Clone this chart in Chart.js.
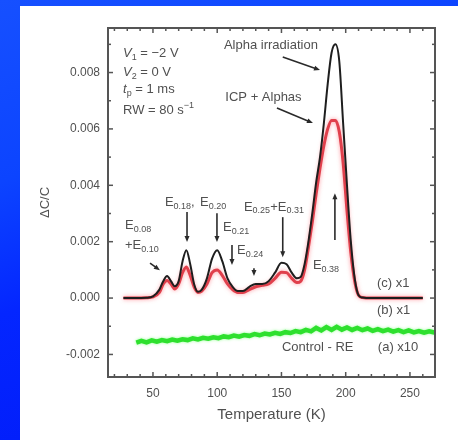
<!DOCTYPE html>
<html>
<head>
<meta charset="utf-8">
<script src="https://cdn.jsdelivr.net/npm/chart.js@4.4.0/dist/chart.umd.min.js"></script>
<style>
  html, body { margin: 0; padding: 0; width: 458px; height: 440px; overflow: hidden; }
  body { position: relative; background: linear-gradient(160deg, #1650ff 0%, #0c44ff 30%, #0426ff 52%, #0016f6 100%); }
  #panel { position: absolute; left: 20px; top: 6px; width: 438px; height: 434px; background: #fff; }
  #chart { position: absolute; left: 0; top: 0; }
</style>
</head>
<body>
<div id="panel"></div>
<canvas id="chart" width="458" height="440"></canvas>
<script>
// Temperatures (K) and dC/C for each curve
const alphaTemps = [27, 35, 45, 50, 55, 58, 61, 64, 67, 70, 73, 76, 79, 82, 85, 88, 92, 96, 100, 104, 108, 112, 116, 120, 125, 130, 135, 140, 145, 150, 154, 158, 162, 165, 168, 171, 174, 177, 180, 183, 186, 189, 192, 195, 198, 201, 204, 207, 210, 213, 220, 240, 260];
const alphaValues = [0, 0, 0.00001, 0.00006, 0.0003, 0.0006, 0.00078, 0.0006, 0.00042, 0.0006, 0.0013, 0.0017, 0.0012, 0.0005, 0.00022, 0.0003, 0.0007, 0.0014, 0.0017, 0.0013, 0.0007, 0.0004, 0.00025, 0.00025, 0.0004, 0.0005, 0.0005, 0.0006, 0.0009, 0.00125, 0.0012, 0.0009, 0.0007, 0.00075, 0.0012, 0.002, 0.003, 0.0041, 0.005, 0.0062, 0.0076, 0.0087, 0.009, 0.0084, 0.0062, 0.004, 0.002, 0.0007, 0.0001, 0.00002, 0, 0, 0];

const icpTemps = [27, 35, 45, 50, 55, 58, 61, 64, 67, 70, 73, 76, 79, 82, 85, 88, 92, 96, 100, 104, 108, 112, 116, 120, 125, 130, 135, 140, 145, 150, 154, 158, 162, 165, 168, 171, 174, 177, 180, 183, 186, 189, 192, 195, 198, 201, 204, 207, 210, 213, 220, 240, 260];
const icpValues = [0, 0, 0.00001, 0.00004, 0.0002, 0.0005, 0.00062, 0.0005, 0.00032, 0.0005, 0.0009, 0.0011, 0.0008, 0.0004, 0.0002, 0.00025, 0.0005, 0.0009, 0.001, 0.0008, 0.0005, 0.0003, 0.0002, 0.0002, 0.0003, 0.0004, 0.00045, 0.0005, 0.0007, 0.00092, 0.0009, 0.0007, 0.00055, 0.0006, 0.001, 0.0018, 0.0027, 0.0037, 0.0046, 0.0054, 0.006, 0.0063, 0.0063, 0.0059, 0.0048, 0.0031, 0.0016, 0.0006, 0.0001, 0.00002, 0, 0, 0];

const controlTemps = [37, 41, 45, 49, 53, 57, 61, 65, 69, 73, 77, 81, 85, 89, 93, 97, 101, 105, 109, 113, 117, 121, 125, 129, 133, 137, 141, 145, 149, 153, 157, 161, 165, 169, 173, 177, 181, 185, 189, 193, 197, 201, 205, 209, 213, 217, 221, 225, 229, 233, 237, 241, 245, 249, 253, 257, 261, 265, 269];
const controlValues = [-0.00158, -0.00152, -0.00157, -0.0015, -0.00155, -0.00149, -0.00153, -0.00147, -0.00151, -0.00146, -0.00149, -0.00143, -0.00147, -0.00141, -0.00144, -0.00139, -0.00142, -0.00136, -0.00139, -0.00133, -0.00137, -0.00131, -0.00134, -0.00128, -0.00132, -0.00126, -0.00129, -0.00123, -0.00127, -0.00121, -0.00124, -0.00117, -0.00121, -0.00113, -0.00118, -0.00106, -0.00115, -0.00103, -0.00113, -0.00102, -0.00112, -0.00104, -0.00113, -0.00106, -0.00114, -0.00108, -0.00116, -0.0011, -0.00117, -0.00112, -0.00119, -0.00114, -0.00121, -0.00115, -0.00122, -0.00117, -0.00123, -0.00118, -0.00122];

// Axis ticks
const xTicks = [50, 100, 150, 200, 250];
const xMinorTicks = [20, 30, 40, 60, 70, 80, 90, 110, 120, 130, 140, 160, 170, 180, 190, 210, 220, 230, 240, 260];
const yTicks = [-0.002, 0, 0.002, 0.004, 0.006, 0.008];
const yMinorTicks = [-0.001, 0.001, 0.003, 0.005, 0.007, 0.009];

// Text notes: [T, dC/C, segments], segment = [text, mode] (0 normal, 1 sub, 2 sup, 3 italic)
const notes = [
  [26.7, 0.00869, [["V", 3], ["1", 1], [" = \u22122 V", 0]]],
  [26.7, 0.00801, [["V", 3], ["2", 1], [" = 0 V", 0]]],
  [26.7, 0.00741, [["t", 3], ["p", 1], [" = 1 ms", 0]]],
  [26.7, 0.00667, [["RW = 80 s", 0], ["\u22121", 2]]],
  [28.2, 0.00259, [["E", 0], ["0.08", 1]]],
  [28.2, 0.00188, [["+E", 0], ["0.10", 1]]],
  [59.3, 0.0034, [["E", 0], ["0.18", 1], [",", 0]]],
  [86.6, 0.0034, [["E", 0], ["0.20", 1]]],
  [104.5, 0.00252, [["E", 0], ["0.21", 1]]],
  [115.4, 0.0017, [["E", 0], ["0.24", 1]]],
  [120.8, 0.00323, [["E", 0], ["0.25", 1], ["+E", 0], ["0.31", 1]]],
  [174.5, 0.00117, [["E", 0], ["0.38", 1]]],
  [224.3, 0.00053, [["(c) x1", 0]]],
  [224.3, -0.00043, [["(b) x1", 0]]],
  [150.4, -0.00174, [["Control - RE", 0]]],
  [225, -0.00174, [["(a) x10", 0]]]
];
const centeredNotes = [
  [141.8, 0.00897, "Alpha irradiation"],
  [136, 0.00713, "ICP + Alphas"]
];
// Arrows: [T1, v1, T2, v2] from tail to head
const arrows = [
  [151, 0.00855, 180, 0.00809],
  [146.5, 0.00674, 174.5, 0.00621],
  [47.7, 0.00124, 55.4, 0.00099],
  [76.5, 0.00305, 76.5, 0.00199],
  [99.8, 0.00301, 99.8, 0.00199],
  [111.5, 0.00188, 111.5, 0.00117],
  [128.6, 0.00106, 128.6, 0.00078],
  [151, 0.00287, 151, 0.00145],
  [191.6, 0.00206, 191.6, 0.00372]
];

const FONT = "'Liberation Sans', Arial, sans-serif";
const TEXT = '#505050';

function toPoints(xs, ys) {
  return xs.map((t, i) => ({ x: t, y: ys[i] }));
}

function drawSegs(ctx, x, y, segs) {
  ctx.textBaseline = 'middle';
  ctx.textAlign = 'left';
  segs.forEach(([t, m]) => {
    let dy = 0;
    if (m === 1 || m === 2) {
      ctx.font = '9px ' + FONT;
      dy = m === 1 ? 4 : -5;
    } else if (m === 3) {
      ctx.font = 'italic 13px ' + FONT;
    } else {
      ctx.font = '13px ' + FONT;
    }
    ctx.fillText(t, x, y + dy);
    x += ctx.measureText(t).width;
  });
}

function drawArrow(ctx, x1, y1, x2, y2) {
  const ang = Math.atan2(y2 - y1, x2 - x1);
  const h = 6;
  ctx.beginPath();
  ctx.moveTo(x1, y1);
  ctx.lineTo(x2 - Math.cos(ang) * h * 0.8, y2 - Math.sin(ang) * h * 0.8);
  ctx.stroke();
  ctx.beginPath();
  ctx.moveTo(x2, y2);
  ctx.lineTo(x2 - h * Math.cos(ang) + 2.5 * Math.sin(ang), y2 - h * Math.sin(ang) - 2.5 * Math.cos(ang));
  ctx.lineTo(x2 - h * Math.cos(ang) - 2.5 * Math.sin(ang), y2 - h * Math.sin(ang) + 2.5 * Math.cos(ang));
  ctx.closePath();
  ctx.fill();
}

const decor = {
  id: 'decor',
  beforeDatasetDraw(chart, args) {
    const ctx = chart.ctx;
    ctx.save();
    if (args.index === 1) {
      ctx.shadowColor = 'rgba(255,110,120,0.7)';
      ctx.shadowBlur = 4;
    } else if (args.index === 2) {
      ctx.shadowColor = 'rgba(120,255,120,0.8)';
      ctx.shadowBlur = 3;
    }
  },
  afterDatasetDraw(chart) {
    chart.ctx.restore();
  },
  afterDraw(chart) {
    const { ctx, chartArea: a, scales: { x, y } } = chart;
    ctx.save();
    // frame
    ctx.strokeStyle = '#555';
    ctx.lineWidth = 2;
    ctx.strokeRect(a.left, a.top, a.right - a.left, a.bottom - a.top);
    // inward ticks
    ctx.lineWidth = 1.5;
    const tick = (x1, y1, x2, y2) => { ctx.beginPath(); ctx.moveTo(x1, y1); ctx.lineTo(x2, y2); ctx.stroke(); };
    xTicks.forEach(t => { const p = x.getPixelForValue(t); tick(p, a.bottom, p, a.bottom - 5); tick(p, a.top, p, a.top + 5); });
    xMinorTicks.forEach(t => { const p = x.getPixelForValue(t); tick(p, a.bottom, p, a.bottom - 3); tick(p, a.top, p, a.top + 3); });
    yTicks.forEach(v => { const p = y.getPixelForValue(v); tick(a.left, p, a.left + 5, p); tick(a.right, p, a.right - 5, p); });
    yMinorTicks.forEach(v => { const p = y.getPixelForValue(v); tick(a.left, p, a.left + 3, p); tick(a.right, p, a.right - 3, p); });

    // notes
    ctx.fillStyle = TEXT;
    notes.forEach(([t, v, segs]) => drawSegs(ctx, x.getPixelForValue(t), y.getPixelForValue(v), segs));
    ctx.font = '13px ' + FONT;
    ctx.textAlign = 'center';
    ctx.textBaseline = 'middle';
    centeredNotes.forEach(([t, v, s]) => ctx.fillText(s, x.getPixelForValue(t), y.getPixelForValue(v)));

    // arrows
    ctx.strokeStyle = '#2a2a2a';
    ctx.fillStyle = '#2a2a2a';
    ctx.lineWidth = 1.6;
    arrows.forEach(([t1, v1, t2, v2]) => drawArrow(ctx,
      x.getPixelForValue(t1), y.getPixelForValue(v1),
      x.getPixelForValue(t2), y.getPixelForValue(v2)));
    ctx.restore();
  }
};

new Chart(document.getElementById('chart').getContext('2d'), {
  type: 'line',
  data: {
    datasets: [
      {
        label: 'Alpha irradiation',
        data: toPoints(alphaTemps, alphaValues),
        borderColor: '#1e1e1e',
        borderWidth: 2,
        cubicInterpolationMode: 'monotone',
        pointRadius: 0
      },
      {
        label: 'ICP + Alphas',
        data: toPoints(icpTemps, icpValues),
        borderColor: '#e0404c',
        borderWidth: 3,
        cubicInterpolationMode: 'monotone',
        pointRadius: 0
      },
      {
        label: 'Control - RE',
        data: toPoints(controlTemps, controlValues),
        borderColor: '#2ee02e',
        borderWidth: 4.5,
        tension: 0,
        pointRadius: 0
      }
    ]
  },
  options: {
    responsive: false,
    animation: false,
    events: [],
    layout: { padding: { left: 0, top: 28, right: 23, bottom: 0 } },
    plugins: { legend: { display: false }, tooltip: { enabled: false } },
    scales: {
      x: {
        type: 'linear',
        min: 15,
        max: 269.5,
        afterBuildTicks: s => { s.ticks = xTicks.map(v => ({ value: v })); },
        afterFit: s => { s.height = 63; },
        grid: { display: false, drawTicks: false },
        border: { display: false },
        ticks: { color: TEXT, padding: 9, font: { family: FONT, size: 12 }, maxRotation: 0 },
        title: {
          display: true,
          text: 'Temperature (K)',
          color: TEXT,
          font: { family: FONT, size: 15 },
          padding: { top: 0, bottom: 16 }
        }
      },
      y: {
        type: 'linear',
        min: -0.0028,
        max: 0.00958,
        afterBuildTicks: s => { s.ticks = yTicks.map(v => ({ value: v })); },
        afterFit: s => { s.width = 108; },
        grid: { display: false, drawTicks: false },
        border: { display: false },
        ticks: {
          color: TEXT,
          padding: 8,
          font: { family: FONT, size: 12 },
          callback: v => v.toFixed(3)
        },
        title: {
          display: true,
          text: '\u0394C/C',
          color: TEXT,
          font: { family: FONT, size: 13 },
          padding: { top: 38, bottom: 0 }
        }
      }
    }
  },
  plugins: [decor]
});
</script>
</body>
</html>
